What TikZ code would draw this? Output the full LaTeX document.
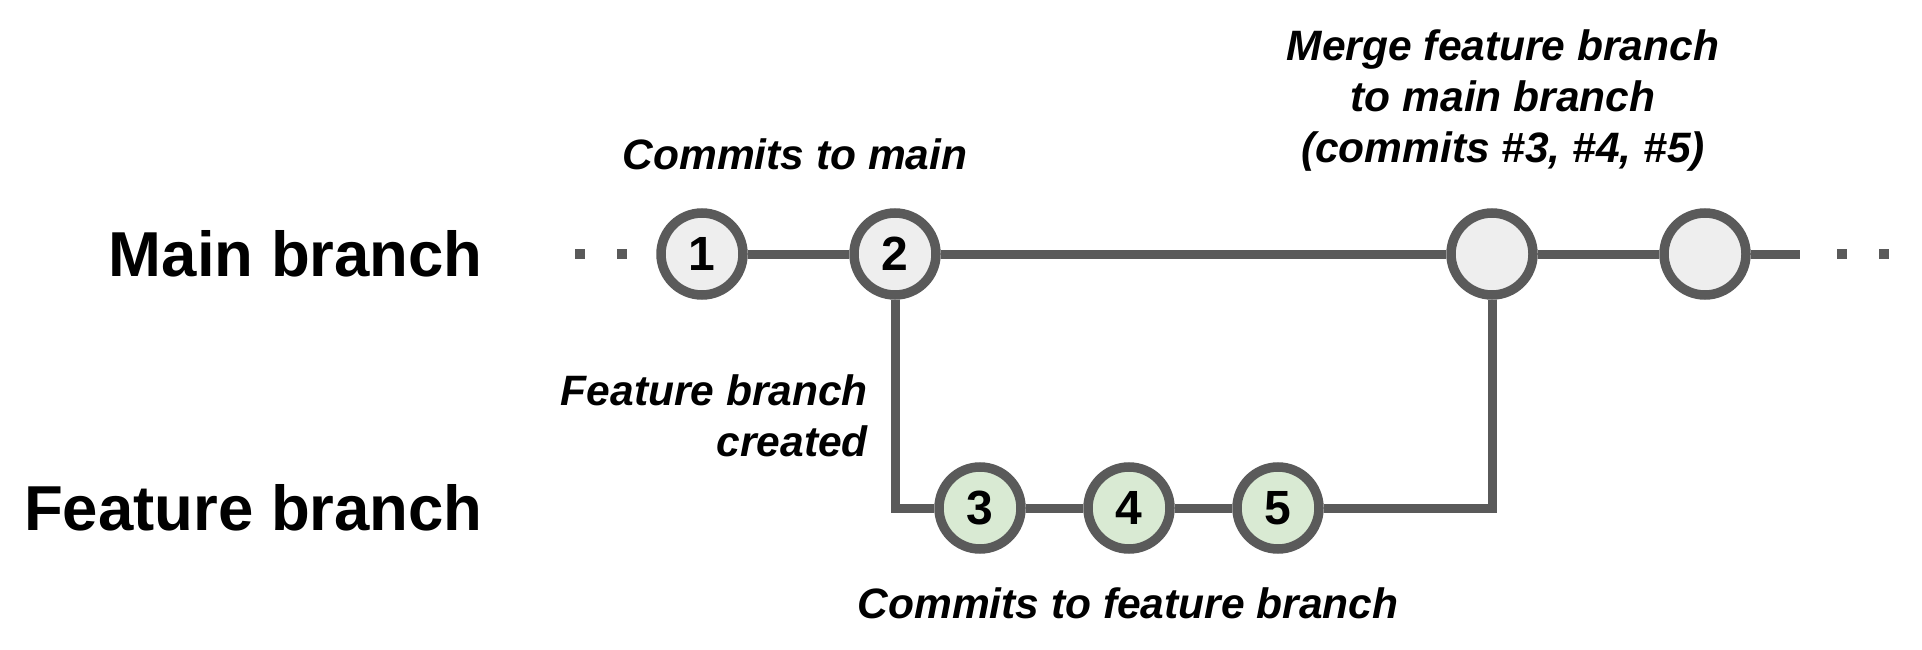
\documentclass[tikz,border=0pt]{standalone}
\usepackage{fontspec}
\setmainfont{Liberation Sans}
\definecolor{linegray}{HTML}{5A5A5A}
\definecolor{mainfill}{HTML}{EEEEEE}
\definecolor{featfill}{HTML}{D9EAD3}
\tikzset{
  commit/.style={circle, draw=linegray, line width=9.5pt, minimum size=82pt, inner sep=0pt, font=\fontsize{48}{52}\selectfont\bfseries},
  maincommit/.style={commit, fill=mainfill},
  featcommit/.style={commit, fill=featfill},
  conn/.style={draw=linegray, line width=9pt, line join=miter},
  dotline/.style={draw=linegray, line width=10pt, dash pattern=on 10pt off 32pt},
  branchlabel/.style={anchor=east, inner sep=0pt, font=\fontsize{63.5}{70}\selectfont\bfseries},
  note/.style={inner sep=0pt, align=center, font=\fontsize{42.5}{51}\selectfont\bfseries\itshape},
}
\begin{document}
\begin{tikzpicture}[x=1pt, y=-1pt]
\useasboundingbox[fill=white] (0,0) rectangle (1922,650);
% branch labels
\node[branchlabel] (mainlbl) at (483,254) {Main branch};
\node[branchlabel] (featlbl) at (483,508) {Feature branch};
% commits
\node[maincommit] (c1) at (702,254) {1};
\node[maincommit] (c2) at (895,254) {2};
\node[maincommit] (m) at (1492,254) {};
\node[maincommit] (c6) at (1705,254) {};
\node[featcommit] (c3) at (980,508) {3};
\node[featcommit] (c4) at (1129,508) {4};
\node[featcommit] (c5) at (1278,508) {5};
% coordinates for free ends
\coordinate (dl1) at (575,254);
\coordinate (dl2) at (628,254);
\coordinate (rend) at (1800,254);
\coordinate (dr1) at (1837,254);
\coordinate (dr2) at (1889,254);
% connectors
\draw[dotline] (dl1) -- (dl2);
\draw[conn] (c1) -- (c2);
\draw[conn] (c2) -- (m);
\draw[conn] (m) -- (c6);
\draw[conn] (c6) -- (rend);
\draw[dotline] (dr1) -- (dr2);
\draw[conn] (c2) |- (c3);
\draw[conn] (c3) -- (c4);
\draw[conn] (c4) -- (c5);
\draw[conn] (m) |- (c5);
% annotations
\node[note] (n1) at (795,154) {Commits to main};
\node[note] (n2) at (1503,101) {Merge feature branch\\to main branch\\(commits \#3, \#4, \#5)};
\node[note, align=right, anchor=east] (n3) at (868,416) {Feature branch\\created};
\node[note] (n4) at (1128,603) {Commits to feature branch};
\end{tikzpicture}
\end{document}
